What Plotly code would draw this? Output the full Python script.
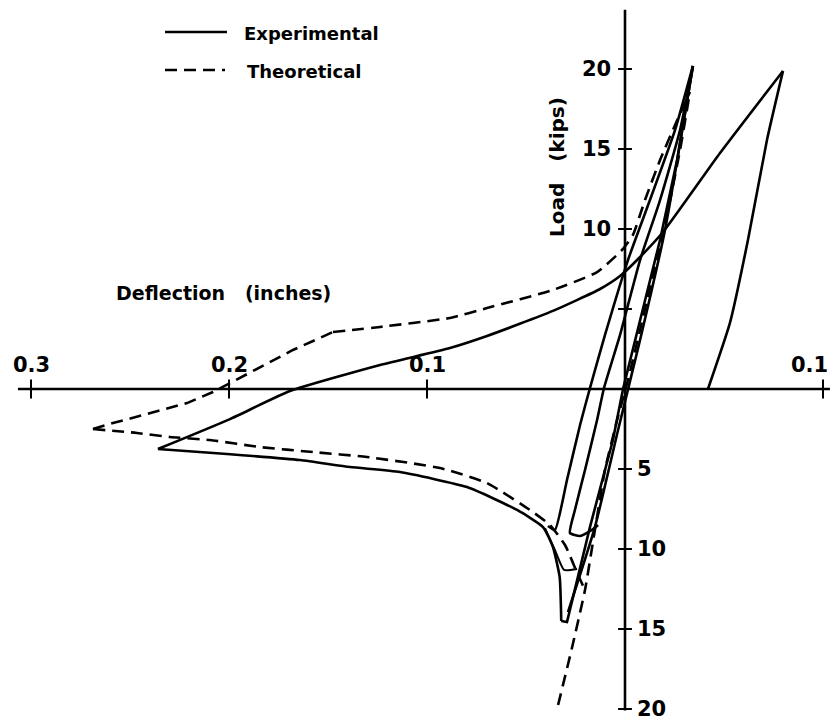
import plotly.graph_objects as go

# ---------------- data (deflection in inches, load in kips) ----------------
# Experimental curves
exp_big_load_x = [0.2359, 0.1995, 0.1692, 0.1237, 0.0884, 0.0697, 0.0364, 0.0126, 0.0025,
                  -0.0076, -0.0192, -0.048, -0.0798]
exp_big_load_y = [-3.75, -1.88, -0.13, 1.5, 2.56, 3.31, 4.88, 6.25, 7.06,
                  8.25, 9.81, 14.75, 19.88]

exp_big_unload_x = [-0.0798, -0.0717, -0.0621, -0.053, -0.0419]
exp_big_unload_y = [19.88, 15.56, 9.31, 4.13, 0.0]

exp_lower_x = [0.2359, 0.201, 0.1641, 0.1389, 0.1136, 0.0798, 0.0545, 0.0414, 0.0364,
               0.0330, 0.0322]
exp_lower_y = [-3.75, -4.06, -4.44, -4.88, -5.19, -6.13, -7.56, -8.63, -9.88,
               -11.75, -14.5]

exp_load1_x = [0.0322, 0.0293, 0.0177, 0.0061, 0.001, -0.0076, -0.0177, -0.0263, -0.0343]
exp_load1_y = [-14.5, -14.56, -8.63, -3.19, 0.0, 4.31, 9.31, 14.31, 20.19]

exp_load2_x = [0.0288, 0.0152, 0.0035, -0.0076, -0.0202, -0.0343]
exp_load2_y = [-13.94, -8.63, -2.56, 3.06, 9.94, 20.19]

exp_unload1_x = [-0.0343, -0.0253, -0.0126, -0.0015, 0.0101, 0.0177, 0.0227, 0.0293, 0.0354, 0.0389]
exp_unload1_y = [20.19, 16.19, 11.81, 8.06, 3.38, 0.06, -2.25, -5.69, -8.81, -8.56]

exp_unload2_x = [-0.0343, -0.0278, -0.0177, -0.0076, 0.0025, 0.0106, 0.0141, 0.0202, 0.0253,
                 0.0278, 0.0227, 0.0167, 0.0136]
exp_unload2_y = [20.19, 16.19, 11.81, 8.06, 3.38, 0.06, -1.94, -5.06, -7.56,
                 -9.0, -9.19, -8.81, -8.5]

exp_inner_x = [0.0404, 0.0354, 0.0308, 0.0242]
exp_inner_y = [-8.69, -10.06, -11.31, -11.25]

# Theoretical curves
th_steep_x = [0.0338, 0.0268, 0.0202, 0.0152, 0.0101, 0.004, -0.0015, -0.0076, -0.0136,
              -0.0202, -0.0278, -0.0328]
th_steep_y = [-19.75, -16.19, -12.56, -8.81, -5.06, -1.94, 0.56, 3.69, 6.81,
              10.25, 14.94, 18.56]

th_upper_left_x = [0.2687, 0.2586, 0.2434, 0.2212, 0.2081, 0.1879, 0.1677, 0.1475]
th_upper_left_y = [-2.5, -2.13, -1.63, -0.88, -0.19, 1.13, 2.44, 3.56]

th_upper_right_x = [0.1475, 0.1237, 0.0884, 0.0697, 0.0364, 0.0141, 0.0015, -0.004,
                    -0.0101, -0.0177, -0.0253, -0.0328]
th_upper_right_y = [3.56, 3.88, 4.44, 5.06, 6.19, 7.31, 8.69, 9.63,
                    11.81, 14.31, 16.5, 18.56]

th_lower_x = [0.2687, 0.2465, 0.2298, 0.2096, 0.1843, 0.1576, 0.1303, 0.0934, 0.0697,
              0.0465, 0.0379, 0.0303, 0.0237, 0.0202]
th_lower_y = [-2.5, -2.75, -3.0, -3.19, -3.63, -3.94, -4.25, -4.94, -5.88,
              -7.69, -8.5, -9.75, -11.63, -12.56]

# Axes and ticks
x_tick_vals = [0.3, 0.2, 0.1, -0.1]
x_tick_text = ["0.3", "0.2", "0.1", "0.1"]
y_tick_up_vals = [20, 15, 10, 5]
y_tick_up_text = ["20", "15", "10", ""]
y_tick_down_vals = [-5, -10, -15, -20]
y_tick_down_text = ["5", "10", "15", "20"]
x_axis_ends = [0.3066, -0.1035]
y_axis_ends = [23.7, -20.1]

# ---------------- figure ----------------
W, H = 830, 725
X_RANGE = [(625 - 0) / 1980, (625 - W) / 1980]
Y_RANGE = [(389 - H) / 16, (389 - 0) / 16]
BLACK = "#000000"
LW = 2.6
DASH = "12px,7px"
FONT = "DejaVu Sans"

fig = go.Figure()


def add_line(x, y, dash="solid", width=LW, smooth=True):
    line = dict(color=BLACK, width=width, dash=dash)
    if smooth:
        line.update(shape="spline", smoothing=0.5)
    fig.add_trace(go.Scatter(x=x, y=y, mode="lines", showlegend=False, hoverinfo="skip",
                             line=line))


# axes
add_line(x_axis_ends, [0, 0], smooth=False)
add_line([0, 0], y_axis_ends, smooth=False)
# ticks
for v in x_tick_vals:
    add_line([v, v], [0.6, -0.6], width=2, smooth=False)
for v in y_tick_up_vals + y_tick_down_vals:
    add_line([0.0035, -0.0035], [v, v], width=2, smooth=False)

# experimental
add_line(exp_big_load_x, exp_big_load_y)
add_line(exp_big_unload_x, exp_big_unload_y)
add_line(exp_lower_x, exp_lower_y)
add_line(exp_load1_x, exp_load1_y, smooth=False)
add_line(exp_load2_x, exp_load2_y)
add_line(exp_unload1_x, exp_unload1_y)
add_line(exp_unload2_x, exp_unload2_y)
add_line(exp_inner_x, exp_inner_y, width=2)

# theoretical
add_line(th_steep_x, th_steep_y, dash=DASH)
add_line(th_upper_left_x, th_upper_left_y, dash=DASH, smooth=False)
add_line(th_upper_right_x, th_upper_right_y, dash=DASH)
add_line(th_lower_x, th_lower_y, dash=DASH)


def tfont(size):
    return dict(family=FONT, size=size, color=BLACK, weight="bold")


ann = []
for v, t in zip(x_tick_vals, x_tick_text):
    edge = v == x_tick_vals[-1]
    ann.append(dict(x=v, y=0, xref="x", yref="y", text=t, showarrow=False,
                    xanchor="right" if edge else "center", xshift=7 if edge else 0,
                    yanchor="bottom", yshift=10, font=tfont(21)))
for v, t in zip(y_tick_up_vals, y_tick_up_text):
    if t:
        ann.append(dict(x=0, y=v, xref="x", yref="y", text=t, showarrow=False,
                        xanchor="right", yanchor="middle", xshift=-12, font=tfont(21)))
for v, t in zip(y_tick_down_vals, y_tick_down_text):
    ann.append(dict(x=0, y=v, xref="x", yref="y", text=t, showarrow=False,
                    xanchor="left", yanchor="middle", xshift=10, font=tfont(21)))

ann.append(dict(x=223 / W, y=1 - 293 / H, xref="paper", yref="paper",
                text="Deflection\u00a0\u00a0\u00a0(inches)", showarrow=False,
                xanchor="center", yanchor="middle", font=tfont(19)))
ann.append(dict(x=557 / W, y=1 - 167 / H, xref="paper", yref="paper",
                text="Load\u00a0\u00a0\u00a0(kips)", showarrow=False, textangle=-90,
                xanchor="center", yanchor="middle", font=tfont(20)))
ann.append(dict(x=242 / W, y=1 - 33 / H, xref="paper", yref="paper",
                text="Experimental", showarrow=False, xanchor="left", yanchor="middle",
                font=tfont(18)))
ann.append(dict(x=245 / W, y=1 - 71 / H, xref="paper", yref="paper",
                text="Theoretical", showarrow=False, xanchor="left", yanchor="middle",
                font=tfont(18)))

shapes = [
    dict(type="line", xref="paper", yref="paper", x0=165 / W, x1=227 / W,
         y0=1 - 32 / H, y1=1 - 32 / H, line=dict(color=BLACK, width=2.6)),
    dict(type="line", xref="paper", yref="paper", x0=165 / W, x1=225 / W,
         y0=1 - 70 / H, y1=1 - 70 / H, line=dict(color=BLACK, width=2.6, dash=DASH)),
]

axis_common = dict(showgrid=False, zeroline=False, showticklabels=False, showline=False,
                   ticks="", fixedrange=True)
fig.update_layout(
    width=W, height=H,
    margin=dict(l=0, r=0, t=0, b=0),
    paper_bgcolor="white", plot_bgcolor="white",
    xaxis=dict(range=X_RANGE, **axis_common),
    yaxis=dict(range=Y_RANGE, **axis_common),
    annotations=ann, shapes=shapes,
    showlegend=False,
)

fig.write_html("out.html")
